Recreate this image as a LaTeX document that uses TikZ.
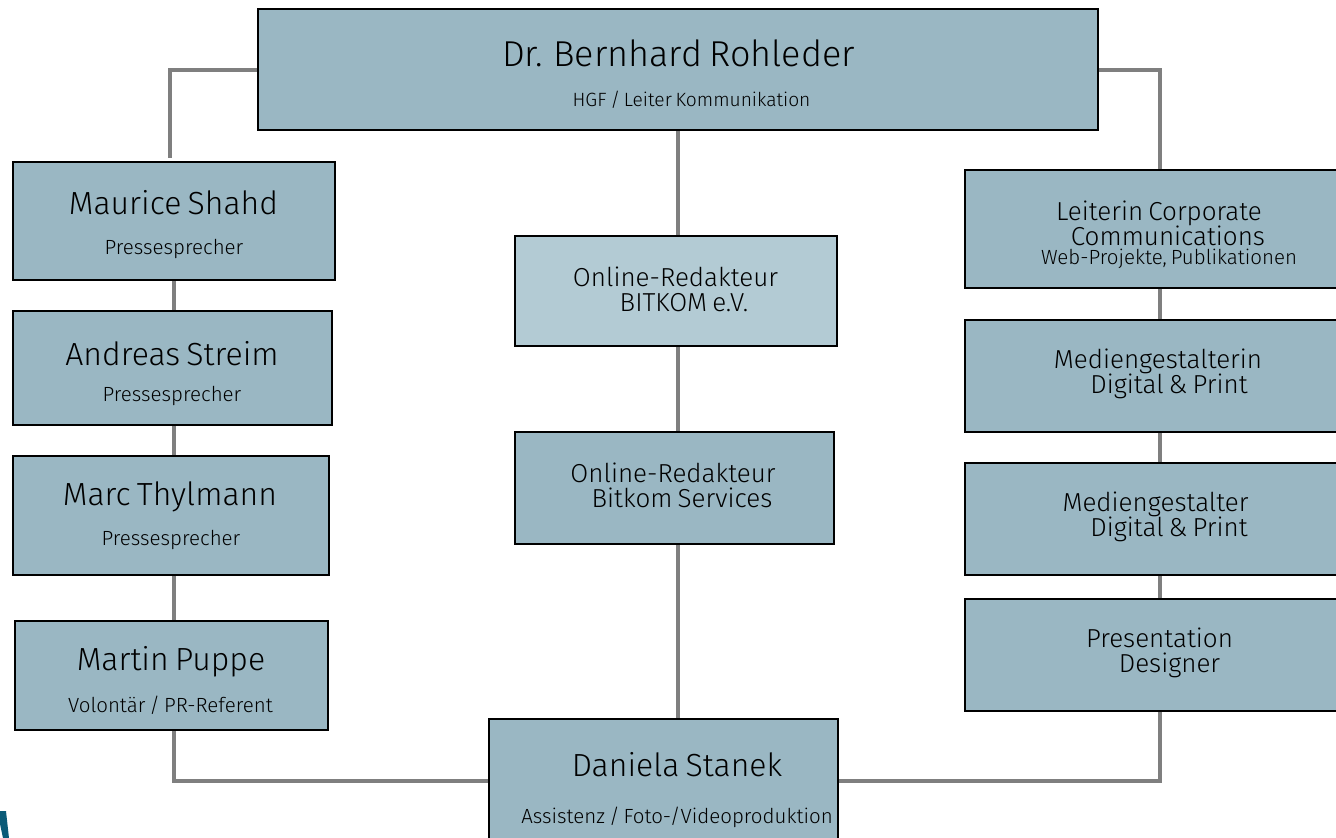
\documentclass[tikz,border=0pt]{standalone}
\usepackage{fontspec}
\setmainfont{Fira Sans Light}[WordSpace=0.7]
\usetikzlibrary{positioning}
\definecolor{boxblue}{HTML}{9AB7C3}
\definecolor{boxlight}{HTML}{B3CBD4}
\definecolor{linegray}{HTML}{7F7F7F}
\definecolor{logoteal}{HTML}{0B5B78}

\begin{document}
\begin{tikzpicture}[x=1pt,y=-1pt,
% node styles
rect/.style={rectangle, draw=black, line width=2pt, fill=boxblue, inner sep=0pt},
lightrect/.style={rect, fill=boxlight},
bigname/.style={font=\fontsize{36}{38}\selectfont, inner sep=0pt},
person/.style={font=\fontsize{32}{34}\selectfont, inner sep=0pt},
role/.style={font=\fontsize{20.5}{22}\selectfont, inner sep=0pt},
post/.style={font=\fontsize{26}{25}\selectfont, align=center, inner sep=0pt},
conn/.style={draw=linegray, line width=4pt}
]
\useasboundingbox (0,0) rectangle (1336,838);

% logo remainder
\fill[logoteal] (0,811) -- (6,811) -- (9,838) -- (3,838) -- (0,824) -- cycle;

% top box
\node[rect, minimum width=840pt, minimum height=121pt] (rohleder) at (678,69.5) {};
\node[bigname] (rohleder_name) at (678.5,53) {Dr. Bernhard Rohleder};
\node[role, font=\fontsize{19.2}{22}\selectfont] (rohleder_role) at (691.5,100) {HGF / Leiter Kommunikation};

% left column
\node[rect, minimum width=322pt, minimum height=118pt] (shahd) at (174,221) {};
\node[person] (shahd_name) at (173.5,203) {Maurice Shahd};
\node[role] (shahd_role) at (174,249) {Pressesprecher};
\node[rect, minimum width=319pt, minimum height=114pt] (streim) at (172.5,368) {};
\node[person] (streim_name) at (172,354) {Andreas Streim};
\node[role] (streim_role) at (172,396) {Pressesprecher};
\node[rect, minimum width=316pt, minimum height=119pt] (thylmann) at (171,515.5) {};
\node[person] (thylmann_name) at (170,497) {Marc Thylmann};
\node[role] (thylmann_role) at (171,540) {Pressesprecher};
\node[rect, minimum width=313pt, minimum height=109pt] (puppe) at (171.5,675.5) {};
\node[person] (puppe_name) at (171,662) {Martin Puppe};
\node[role] (puppe_role) at (170.5,705) {Volontär / PR-Referent};

% middle column
\node[lightrect, minimum width=322pt, minimum height=110pt] (bitkom) at (676,291) {};
\node[post] (bitkom_text) at (675.5,289) {Online-Redakteur\\\hspace*{17pt}BITKOM e.V.};
\node[rect, minimum width=319pt, minimum height=112pt] (services) at (674.5,488) {};
\node[post] (services_text) at (673,485) {Online-Redakteur\\\hspace*{18pt}Bitkom Services};
\node[rect, minimum width=349pt, minimum height=123pt] (stanek) at (663.5,780.5) {};
\node[person] (stanek_name) at (677,765) {Daniela Stanek};
\node[role] (stanek_role) at (677,817) {Assistenz / Foto-/Videoproduktion};

% right column
\node[rect, minimum width=375pt, minimum height=118pt] (corporate) at (1152.5,229) {};
\node[post] (corporate_text) at (1159,223) {Leiterin Corporate\\\hspace*{18pt}Communications};
\node[role] (corporate_role) at (1169,259) {Web-Projekte, Publikationen};
\node[rect, minimum width=375pt, minimum height=112pt] (print_a) at (1152.5,376) {};
\node[post] (print_a_text) at (1158,374) {Mediengestalterin\\\hspace*{22pt}Digital \& Print};
\node[rect, minimum width=375pt, minimum height=112pt] (print_b) at (1152.5,519) {};
\node[post] (print_b_text) at (1155.5,517) {Mediengestalter\\\hspace*{27pt}Digital \& Print};
\node[rect, minimum width=375pt, minimum height=112pt] (designer) at (1152.5,655) {};
\node[post] (designer_text) at (1159.5,653) {Presentation\\\hspace*{20pt}Designer};

% free ends and trunks
\coordinate (shahd_end) at (170,158);
\coordinate (midtrunk) at (678,0);
\coordinate (righttrunk) at (1160,0);

% draw lines between nodes
\draw[conn] (rohleder.west) -| (shahd_end);
\draw[conn] (rohleder.east) -| (righttrunk |- corporate.north);
\draw[conn] (shahd.south) -- (shahd.south |- streim.north);
\draw[conn] (shahd.south |- streim.south) -- (shahd.south |- thylmann.north);
\draw[conn] (shahd.south |- thylmann.south) -- (shahd.south |- puppe.north);
\draw[conn] (shahd.south |- puppe.south) |- (stanek.west);
\draw[conn] (midtrunk |- rohleder.south) -- (midtrunk |- bitkom.north);
\draw[conn] (midtrunk |- bitkom.south) -- (midtrunk |- services.north);
\draw[conn] (midtrunk |- services.south) -- (midtrunk |- stanek.north);
\draw[conn] (righttrunk |- corporate.south) -- (righttrunk |- print_a.north);
\draw[conn] (righttrunk |- print_a.south) -- (righttrunk |- print_b.north);
\draw[conn] (righttrunk |- print_b.south) -- (righttrunk |- designer.north);
\draw[conn] (righttrunk |- designer.south) |- (stanek.east);

\end{tikzpicture}
\end{document}
